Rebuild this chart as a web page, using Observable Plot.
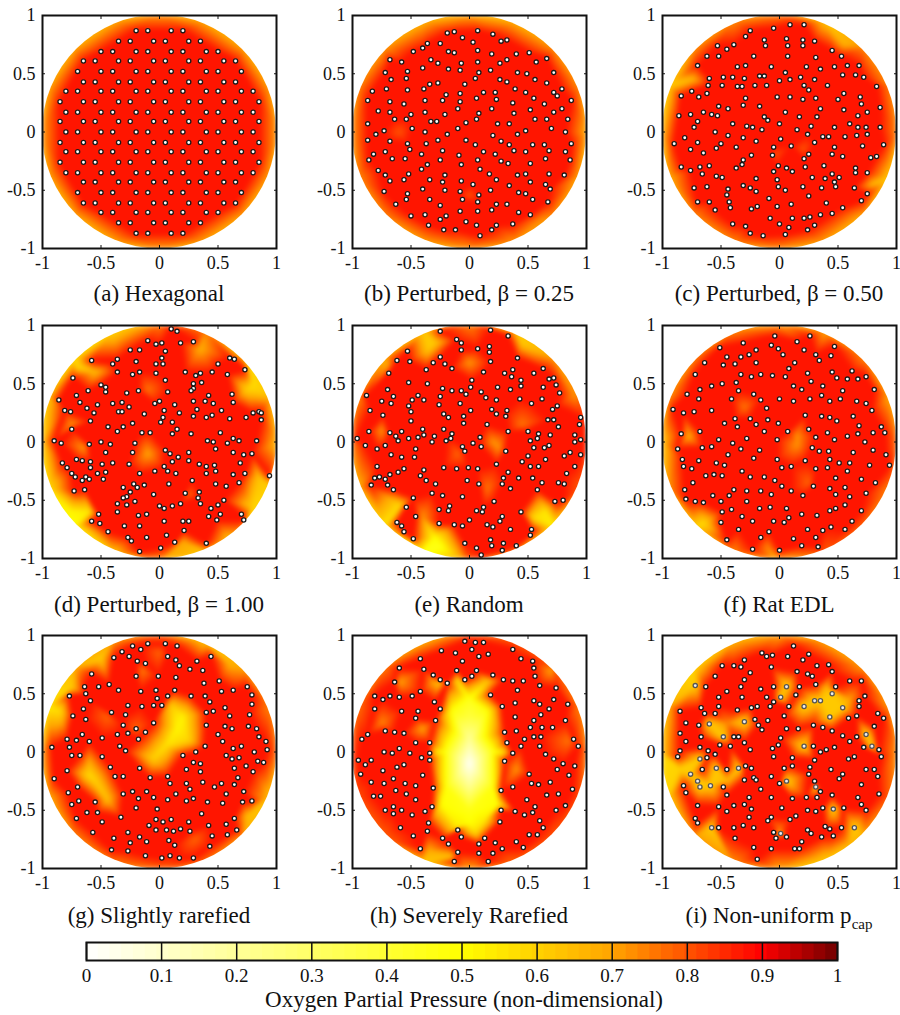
<!DOCTYPE html>
<html><head><meta charset="utf-8">
<script src="https://cdn.jsdelivr.net/npm/d3@7"></script>
<script src="https://cdn.jsdelivr.net/npm/@observablehq/plot@0.6"></script>
<style>
html,body{margin:0;padding:0;background:#fff;overflow:hidden}
#page{position:relative;width:900px;height:1015px}
#page>svg{position:absolute}
.cap{position:absolute;font:23px/26px "Liberation Serif",serif;color:#111;text-align:center;white-space:nowrap}
.cap sub{font-size:15px;line-height:0}
svg text{font-family:"Liberation Serif",serif}
</style></head><body><div id="page"></div>
<script>
// Capillary positions, in hundredths of the axis unit, as flat x,y lists
const capsA=[-20,87,-10,87,10,87,20,87,-35,78,-25,78,-5,78,5,78,25,78,35,78,-50,69,-40,69,-20,69,-10,69,10,69,20,69,40,69,50,69,-65,61,-55,61,-35,61,-25,61,-5,61,5,61,25,61,35,61,55,61,65,61,-70,52,-50,52,-40,52,-20,52,-10,52,10,52,20,52,40,52,50,52,70,52,-65,43,-55,43,-35,43,-25,43,-5,43,5,43,25,43,35,43,55,43,65,43,-80,35,-70,35,-50,35,-40,35,-20,35,-10,35,10,35,20,35,40,35,50,35,70,35,80,35,-85,26,-65,26,-55,26,-35,26,-25,26,-5,26,5,26,25,26,35,26,55,26,65,26,85,26,-80,17,-70,17,-50,17,-40,17,-20,17,-10,17,10,17,20,17,40,17,50,17,70,17,80,17,-85,9,-65,9,-55,9,-35,9,-25,9,-5,9,5,9,25,9,35,9,55,9,65,9,85,9,-80,0,-70,0,-50,0,-40,0,-20,0,-10,0,10,0,20,0,40,0,50,0,70,0,80,0,-85,-9,-65,-9,-55,-9,-35,-9,-25,-9,-5,-9,5,-9,25,-9,35,-9,55,-9,65,-9,85,-9,-80,-17,-70,-17,-50,-17,-40,-17,-20,-17,-10,-17,10,-17,20,-17,40,-17,50,-17,70,-17,80,-17,-85,-26,-65,-26,-55,-26,-35,-26,-25,-26,-5,-26,5,-26,25,-26,35,-26,55,-26,65,-26,85,-26,-80,-35,-70,-35,-50,-35,-40,-35,-20,-35,-10,-35,10,-35,20,-35,40,-35,50,-35,70,-35,80,-35,-65,-43,-55,-43,-35,-43,-25,-43,-5,-43,5,-43,25,-43,35,-43,55,-43,65,-43,-70,-52,-50,-52,-40,-52,-20,-52,-10,-52,10,-52,20,-52,40,-52,50,-52,70,-52,-65,-61,-55,-61,-35,-61,-25,-61,-5,-61,5,-61,25,-61,35,-61,55,-61,65,-61,-50,-69,-40,-69,-20,-69,-10,-69,10,-69,20,-69,40,-69,50,-69,-35,-78,-25,-78,-5,-78,5,-78,25,-78,35,-78,-20,-87,-10,-87,10,-87,20,-87];
const capsB=[-19,85,-13,86,7,87,20,84,-6,81,3,77,27,78,32,79,-25,76,-36,76,-40,72,-48,69,-18,69,-13,68,7,70,19,67,40,67,51,68,-68,62,-58,60,-33,62,-27,59,-7,59,7,60,26,59,32,62,57,60,66,63,-40,55,-18,54,-8,53,-53,52,-72,51,8,51,18,53,41,51,49,50,72,51,-67,45,-54,46,5,46,26,45,32,43,56,45,-34,41,-27,42,-4,41,66,42,-71,37,-83,35,-53,36,-39,37,-8,33,-20,32,12,34,22,34,39,37,48,34,72,34,79,37,-87,27,-68,26,-38,27,-23,27,-8,26,6,29,23,28,37,25,55,29,75,31,87,27,-56,24,64,24,-78,18,-68,17,-38,17,-21,15,-10,20,8,16,19,20,38,16,52,19,72,17,79,20,-64,11,-54,11,-50,15,-33,9,-28,9,6,11,56,11,66,11,84,11,-87,7,-3,8,24,7,34,7,-49,3,-10,3,-73,1,-38,0,48,1,70,3,82,0,-80,-2,-19,-2,20,-3,41,-2,-87,-7,-68,-8,-27,-7,-3,-7,27,-8,-53,-10,-37,-10,5,-11,34,-11,54,-11,64,-11,87,-10,-51,-15,-23,-16,12,-17,22,-19,38,-16,48,-17,68,-16,82,-17,-82,-19,-72,-17,-41,-19,-9,-20,-86,-24,-66,-23,-55,-23,-25,-24,7,-24,27,-25,52,-27,65,-23,86,-24,-36,-28,-7,-28,33,-27,-78,-33,-41,-32,9,-32,-52,-36,-72,-37,-21,-37,17,-36,41,-37,48,-36,68,-36,81,-37,-56,-41,-68,-42,-34,-41,-23,-43,-7,-42,23,-41,52,-43,3,-45,34,-46,65,-45,-40,-49,-21,-50,18,-50,69,-49,-73,-51,-53,-53,-8,-51,42,-52,48,-53,8,-54,-54,-58,-34,-58,-6,-58,54,-58,7,-60,67,-60,-63,-62,-25,-63,32,-62,23,-62,7,-68,-8,-68,19,-67,42,-69,52,-71,-50,-72,-38,-71,-20,-72,-25,-75,-3,-77,6,-80,-35,-80,23,-80,37,-79,-22,-84,-12,-84,19,-84,9,-89];
const capsC=[9,92,21,92,-5,89,-25,87,-29,82,6,80,20,79,30,78,-13,79,-12,74,-53,74,-39,75,-45,71,7,74,20,74,45,70,-62,65,-52,65,-22,65,7,65,53,65,31,64,-70,57,-36,56,-29,57,-7,56,23,56,35,54,47,56,58,57,68,57,5,51,-60,46,-48,47,-40,47,-30,46,-17,48,-13,48,9,45,18,47,30,45,54,49,65,49,72,47,0,44,-61,40,-49,40,-36,39,-32,39,-21,40,-11,40,21,40,41,40,83,39,-75,35,-62,33,25,36,55,33,-69,30,-84,31,-29,29,-2,30,9,30,20,28,31,29,69,30,50,28,70,24,-52,22,-31,23,-17,22,-44,20,86,21,35,20,55,19,75,17,5,17,-65,17,-86,14,-76,15,-58,15,-53,14,-13,13,17,13,32,13,67,14,-70,9,-10,10,-40,7,0,7,60,7,-73,4,-28,5,-23,4,-15,2,15,2,27,5,47,4,67,4,74,4,86,4,-55,0,24,-2,75,-2,-81,-5,-44,-3,-31,-5,1,-6,37,-4,42,-4,56,-4,66,-3,-20,-8,30,-9,-90,-10,-70,-9,-50,-10,71,-12,89,-11,-37,-13,-5,-13,10,-12,-76,-15,-54,-14,47,-13,-65,-18,45,-19,25,-19,-24,-20,-6,-20,54,-21,78,-22,83,-21,21,-23,-31,-24,-1,-29,-68,-30,-60,-29,-32,-28,-37,-31,-84,-30,6,-31,22,-30,38,-29,65,-31,-76,-33,-5,-34,11,-34,-66,-36,45,-36,65,-35,75,-35,-54,-38,-49,-39,-20,-40,28,-39,51,-39,39,-40,-2,-41,47,-43,-73,-48,-62,-47,-31,-46,-25,-48,-1,-47,20,-47,36,-48,48,-47,64,-48,-44,-49,-20,-51,5,-50,-45,-54,75,-53,-9,-57,25,-55,-70,-60,-60,-60,-43,-60,70,-59,40,-61,10,-62,-55,-67,-42,-65,-24,-66,-19,-64,-2,-64,54,-65,45,-70,35,-71,-40,-79,-8,-74,11,-74,21,-74,26,-73,-29,-81,0,-79,30,-80,8,-82,-25,-87,-14,-89,5,-88,24,-84];
const capsD=[10,97,15,95,-10,87,-3,84,2,85,18,85,29,86,-25,79,-17,79,5,78,2,72,60,72,64,71,-58,70,-36,71,-40,67,-20,69,-3,67,3,67,50,67,73,62,-36,60,-23,58,-17,60,-3,59,22,60,35,59,31,57,45,60,58,58,-74,55,5,53,29,50,36,51,-50,49,-46,47,29,46,-61,44,-46,43,-28,42,-18,44,7,43,27,44,-71,40,42,40,62,41,-86,36,-68,34,-53,32,-40,33,-32,34,-4,33,0,35,13,32,29,35,39,35,46,33,63,34,-62,29,-26,30,-81,27,-76,26,-56,25,-35,26,-32,26,-13,24,4,27,17,25,32,28,53,27,80,25,85,26,87,25,74,21,29,22,40,21,45,23,60,20,-59,18,87,19,3,21,1,17,11,17,-23,16,-44,13,-31,13,15,11,-75,11,-36,9,-15,8,-8,8,11,7,27,7,52,8,63,3,-90,1,-84,-1,-50,0,41,1,46,0,58,-1,68,1,83,1,-60,-2,-42,-2,-21,-1,48,-6,5,-7,63,-9,-23,-9,-46,-9,9,-10,25,-9,79,-10,72,-11,-71,-15,-66,-16,-59,-17,16,-13,25,-16,11,-17,-83,-18,-40,-18,-49,-19,-26,-19,34,-19,47,-20,40,-21,69,-18,-79,-22,-59,-22,4,-21,-75,-27,-53,-27,-46,-26,-4,-25,7,-25,14,-27,48,-25,40,-27,-17,-27,73,-27,-72,-30,-63,-30,-60,-32,-66,-33,-48,-32,63,-28,94,-29,28,-33,-22,-36,-19,-39,-13,-37,8,-36,-31,-39,48,-36,57,-38,68,-35,-73,-42,-64,-41,-25,-43,34,-43,-5,-45,22,-44,-28,-47,-31,-48,33,-48,-21,-51,55,-50,-36,-53,-28,-54,18,-53,35,-53,0,-55,11,-55,4,-57,50,-54,44,-57,-36,-60,-52,-62,-18,-63,-11,-62,42,-64,52,-62,70,-62,49,-67,72,-67,-58,-68,-51,-70,4,-68,20,-68,25,-68,-30,-72,-17,-72,-44,-77,21,-76,6,-80,-27,-82,-11,-82,-24,-85,13,-86,40,-87,1,-91,-17,-94];
const capsE=[-25,95,18,96,33,91,-11,88,-7,85,-7,79,7,80,17,82,17,77,-53,78,-25,73,-62,70,-51,69,-31,68,-21,67,18,69,41,72,-37,62,-15,63,12,60,30,59,37,62,-69,59,36,56,55,59,63,63,44,53,68,54,72,55,2,53,-52,51,-36,50,74,49,-70,45,-23,46,-15,44,-7,44,1,47,24,47,35,45,44,48,63,47,-3,41,10,43,77,42,-88,40,-44,40,-65,39,-25,39,14,38,23,36,43,37,62,37,-49,36,-39,36,-75,35,-67,33,-8,33,53,33,-26,32,75,31,-52,31,71,28,-85,27,19,28,1,27,32,27,-50,26,-22,24,23,24,-74,23,-18,21,-5,22,31,22,95,21,67,19,72,19,-50,18,-5,16,15,15,94,15,76,13,-22,11,-40,11,-86,9,-58,9,-68,8,-15,7,33,9,50,9,59,7,-63,5,-39,6,-30,5,-44,4,-52,3,-16,3,69,6,90,6,-96,3,-61,1,9,4,-20,1,-32,0,52,1,58,3,95,2,90,0,3,-1,-89,-3,-72,-3,-6,-4,10,-4,68,-3,55,-5,64,-5,-79,-6,-46,-6,-4,-8,31,-8,86,-9,95,-11,-67,-11,50,-12,-58,-13,-47,-13,81,-12,65,-15,45,-17,-79,-21,23,-19,-22,-22,-11,-23,-1,-22,7,-23,52,-21,59,-21,90,-21,-39,-24,-56,-23,-61,-26,33,-26,83,-27,-68,-28,-81,-31,-77,-30,-42,-29,-72,-32,-37,-33,-2,-33,29,-31,42,-31,54,-31,62,-35,-84,-37,-70,-37,-29,-36,8,-36,28,-36,76,-35,81,-36,-65,-41,35,-40,58,-41,-32,-44,-23,-46,-48,-48,-6,-47,21,-51,73,-51,80,-50,-54,-56,-17,-55,12,-56,-26,-58,-18,-59,6,-59,11,-60,44,-60,-46,-64,28,-64,0,-67,-62,-69,-58,-72,-26,-70,-13,-71,-6,-72,15,-71,20,-73,26,-68,35,-75,53,-75,52,-80,-56,-77,-48,-83,18,-84,29,-87,-4,-87,19,-89,40,-89,6,-91,28,-93,10,-97];
const capsF=[-4,91,26,91,-31,85,15,86,-51,81,-7,83,-1,80,-20,79,47,82,21,79,-26,75,3,75,-33,73,-45,73,31,75,44,74,34,70,-64,68,13,68,-20,68,-38,67,-48,66,8,63,-72,58,-33,58,-16,58,45,60,24,59,62,61,-24,56,-6,57,5,56,49,55,58,54,67,54,74,56,27,52,-37,51,-49,50,-58,48,12,48,37,48,-68,45,-35,44,19,45,54,44,81,45,-22,41,-79,41,36,40,-41,37,-69,37,-16,36,0,37,12,35,26,37,52,37,43,35,66,35,74,33,-11,29,-91,28,-82,25,-73,26,-58,27,79,27,22,23,36,22,43,21,63,22,-38,20,-25,20,-10,19,49,18,-47,16,-20,15,-1,16,-36,13,68,14,87,13,-13,9,7,9,25,11,-68,9,41,8,80,8,-84,7,90,8,67,7,31,4,58,5,-28,3,-52,2,-2,2,47,2,73,0,-40,-1,-66,-5,-58,-4,28,-5,-87,-6,-33,-6,34,-8,42,-8,-17,-7,63,-9,80,-7,-44,-11,91,-11,-83,-15,-69,-16,-22,-14,-2,-15,22,-16,43,-15,-54,-18,51,-18,60,-18,-82,-21,-47,-20,10,-21,2,-22,41,-22,77,-20,94,-20,-75,-23,31,-23,-32,-25,58,-25,-63,-29,-56,-28,-49,-29,-25,-30,-13,-30,48,-31,70,-32,-4,-33,-74,-35,82,-35,2,-38,29,-38,-39,-41,43,-40,56,-39,-81,-41,-28,-42,-16,-42,10,-42,-43,-46,-57,-46,-7,-45,20,-46,48,-45,74,-44,60,-47,-80,-49,-72,-51,-65,-52,-50,-51,-28,-51,56,-54,-41,-58,-17,-57,-8,-56,6,-57,48,-57,70,-59,43,-59,-49,-60,19,-62,32,-63,-32,-64,8,-65,62,-68,-23,-68,-5,-68,4,-69,-50,-69,24,-75,-35,-75,-9,-77,44,-73,37,-76,56,-75,31,-82,-16,-82,12,-83,-45,-84,19,-89,33,-90,-23,-92,0,-93];
const capsG=[-10,93,5,93,15,91,-23,91,-16,88,-32,86,-39,81,-26,82,7,82,44,82,14,79,-19,78,-12,76,32,78,17,74,26,71,37,70,-58,67,-20,65,-1,65,14,64,51,61,38,59,-43,58,-64,56,-52,56,75,56,-35,53,-16,52,-3,53,13,53,53,52,63,53,-63,50,-77,48,-2,46,7,48,27,48,39,48,79,49,-59,44,43,43,-5,40,2,40,-27,40,-15,39,79,41,-65,37,56,38,40,34,46,35,-41,34,-74,31,-29,32,60,31,77,32,-63,28,-5,25,-31,23,40,23,56,22,62,20,76,22,83,20,-20,20,-12,17,-27,16,-36,15,-66,15,50,15,85,13,-79,11,-71,10,-49,12,-18,11,-60,9,54,9,91,9,-92,4,-77,4,-34,5,39,5,63,3,70,5,-29,1,92,2,31,0,81,0,-75,-3,-68,-3,-49,-4,20,-3,57,-3,62,-6,68,-5,84,-8,89,-9,29,-9,35,-10,74,-12,-42,-13,-17,-14,23,-15,64,-14,-79,-16,35,-17,80,-17,-38,-21,-31,-21,-8,-22,7,-21,67,-22,-90,-23,37,-26,9,-27,23,-27,53,-27,64,-28,-70,-30,47,-30,26,-32,-23,-34,-11,-34,72,-34,-78,-35,-31,-36,57,-36,-5,-39,14,-36,-18,-40,7,-41,29,-40,-69,-42,-55,-43,23,-42,41,-43,54,-44,71,-43,79,-42,-75,-45,-20,-48,-2,-49,-62,-52,-53,-52,36,-53,-33,-56,-71,-57,-3,-58,10,-58,64,-57,-49,-60,3,-60,25,-60,-9,-63,42,-63,57,-62,-3,-67,18,-66,6,-67,12,-68,26,-68,-57,-69,-27,-69,66,-67,45,-72,58,-71,-39,-74,-17,-73,8,-76,-11,-77,-25,-78,13,-80,43,-81,-41,-84,-27,-85,-12,-89,9,-89,2,-91,17,-91,29,-91];
const capsH=[-4,95,5,94,12,94,2,88,-24,87,37,88,-12,85,16,84,8,82,-42,80,44,80,-6,78,54,78,-60,72,-39,71,-11,70,6,70,55,72,-31,66,2,65,20,66,56,65,-4,62,-25,62,29,62,37,61,46,61,-19,59,-64,60,60,57,74,55,41,53,-42,52,-81,48,-68,48,-74,45,-60,47,-49,48,18,49,55,44,-30,43,72,45,39,42,60,41,84,41,28,39,68,37,-81,37,-58,35,-44,35,-25,37,61,32,39,30,-46,29,55,27,82,27,-29,27,52,21,62,21,71,21,-72,18,-64,17,-56,16,30,17,40,18,-87,15,55,13,61,13,-92,11,47,11,89,11,-46,8,-34,8,32,8,44,5,60,5,93,5,-60,3,-73,0,-66,-1,-51,-1,-34,-1,37,-1,65,-2,-41,-5,-34,-7,-95,-7,-84,-7,30,-8,72,-6,-89,-11,-56,-11,-62,-13,80,-10,90,-12,-74,-16,75,-15,-93,-19,-40,-20,51,-19,85,-20,-65,-23,-84,-26,-73,-27,-55,-27,-46,-29,53,-27,59,-28,69,-26,-31,-31,37,-30,27,-33,-63,-33,88,-32,-54,-36,66,-37,76,-36,-82,-38,-76,-38,-46,-41,49,-41,-32,-47,-65,-47,56,-47,82,-46,-72,-50,-58,-50,-38,-51,27,-50,39,-51,74,-50,-65,-53,-49,-54,47,-54,54,-52,-35,-61,26,-60,60,-59,-59,-65,63,-65,-36,-68,-10,-67,-48,-72,51,-71,58,-71,-23,-74,-7,-73,13,-74,40,-77,-18,-79,8,-79,22,-78,46,-82,-42,-83,28,-83,-10,-86,8,-87,20,-87,-13,-94,16,-94];
const capsI=[12,91,-15,85,-6,83,-11,82,7,82,25,84,20,79,-30,79,-49,74,-39,74,-33,73,-7,73,32,74,42,75,-25,68,15,69,24,67,28,65,45,69,-55,65,-30,62,60,61,70,61,31,58,-63,56,-33,56,-5,56,17,56,48,56,-16,54,-45,52,14,49,73,48,-52,47,-32,47,-11,47,68,44,-5,43,-52,39,-67,38,-24,38,-19,39,-8,39,8,39,-36,36,-85,35,-64,33,-55,33,68,39,66,31,4,31,84,33,59,29,89,29,-21,28,-10,27,-80,25,-18,23,29,23,-69,23,81,22,6,20,16,20,37,21,-15,19,45,18,-85,16,-67,13,-39,13,-35,13,54,14,66,13,1,12,-80,9,-30,8,60,9,-1,6,-68,4,-51,6,-42,5,29,5,47,4,72,4,85,2,-25,2,-6,3,-61,1,-85,1,40,2,35,0,-55,-2,-5,-4,59,-6,64,-4,87,-4,-62,-5,-87,-4,11,-5,30,-7,26,-13,-29,-12,11,-12,4,-14,-24,-14,-45,-15,-66,-15,44,-15,74,-15,81,-15,25,-19,54,-19,84,-21,-7,-21,-22,-22,-30,-24,-20,-24,51,-23,30,-25,0,-27,70,-28,-82,-29,-48,-30,-16,-32,35,-34,-80,-35,-45,-37,45,-37,85,-36,-26,-39,-7,-39,11,-40,23,-39,32,-39,67,-39,-30,-45,70,-45,-70,-46,-52,-47,-39,-46,2,-48,37,-48,55,-48,-24,-49,24,-50,31,-51,-45,-51,74,-50,-26,-56,-7,-56,14,-55,-72,-57,-10,-59,9,-58,-70,-61,-31,-63,-52,-65,-39,-65,-22,-65,39,-64,43,-66,53,-65,24,-67,-5,-69,27,-70,6,-73,-3,-74,36,-73,46,-72,-38,-74,19,-77,-22,-82,-7,-83,13,-83,17,-83,-19,-92];
// Capillaries of panel (i) with a lower supply pressure
const lowCapsI=[-72,57,6,56,1,47,45,50,21,39,30,44,35,44,54,38,43,30,-60,24,-30,26,-48,13,21,5,74,15,79,5,-68,-6,-54,-14,-35,-14,-76,-19,-70,-25,-68,-30,-59,-29,6,-25,31,-30,46,-49,-58,-65,64,-65,1,-70];

// Oxygen level next to a capillary, and on the rim, sampled every 22.5 degrees counter-clockwise from east
const capLevel=0.875, lowCapLevel=0.62;
const rimA=[.67,.67,.67,.67,.67,.67,.67,.67,.67,.67,.67,.67,.67,.67,.67,.67];
const rimB=[.64,.7,.7,.66,.64,.66,.7,.72,.68,.72,.72,.68,.68,.7,.7,.66];
const rimC=[.7,.72,.72,.62,.7,.72,.7,.6,.6,.66,.72,.72,.68,.68,.66,.6];
const rimD=[.62,.64,.58,.74,.72,.58,.55,.62,.56,.56,.5,.62,.68,.62,.58,.6];
const rimE=[.82,.76,.68,.62,.72,.62,.66,.72,.72,.66,.56,.46,.78,.68,.54,.78];
const rimF=[.72,.66,.72,.68,.66,.72,.72,.7,.58,.7,.6,.72,.66,.78,.75,.72];
const rimG=[.72,.72,.68,.62,.72,.7,.66,.54,.62,.66,.72,.74,.74,.74,.68,.62];
const rimH=[.7,.72,.78,.78,.76,.66,.74,.76,.78,.8,.78,.62,.66,.76,.78,.78];
const rimI=[.68,.68,.7,.68,.66,.66,.58,.66,.58,.6,.72,.72,.66,.58,.68,.76];

// Low-oxygen spots between capillaries, as x,y (hundredths),level
const spotsA=[];
const spotsB=[-60,0,.8,0,-55,.8,60,-75,.74];
const spotsC=[-5,-20,.8,20,-15,.8,-75,45,.66,55,75,.68,80,-45,.66,60,80,.68];
const spotsD=[-10,-10,.7,75,45,.6,80,50,.58,-60,-60,.55,-75,-60,.52,60,-85,.62,20,-85,.7,80,-55,.6,-55,60,.66,-70,65,.58,-10,45,.76,25,-45,.78,-75,15,.72,35,80,.68,-65,-5,.72,85,-30,.64];
const spotsE=[-30,-82,.5,-25,-90,.46,-40,-65,.72,55,-65,.58,65,-60,.55,20,0,.72,25,-5,.72,-60,-55,.58,-30,85,.62,-35,80,.62,45,85,.62,-10,-10,.78,-70,65,.7,0,68,.72,-75,10,.72,45,15,.76,15,-40,.76,90,40,.72];
const spotsF=[15,-2,.72,15,5,.72,-65,-70,.58,-30,30,.76,25,-35,.78,-78,5,.68,-10,-90,.74];
const spotsG=[15,20,.52,20,30,.53,5,5,.57,-5,-5,.6,25,10,.6,10,40,.62,-55,-25,.6,-60,-20,.58,-45,-40,.64,-85,35,.58,-75,55,.62,-45,30,.78,-60,-5,.72,75,-55,.65,60,75,.68,-50,80,.62,-20,20,.78,0,85,.78,90,-40,.7,30,-75,.78,-15,70,.75];
const spotsH=[0,-10,.02,0,10,.2,0,-30,.22,0,30,.38,0,-50,.46,-18,0,.42,18,0,.42,-20,-30,.48,20,-30,.48,15,35,.48,-15,35,.48,-24,-45,.5,24,-45,.5,0,45,.45,-28,0,.55,28,0,.55,-40,20,.7,40,-15,.72,-25,60,.62,15,60,.62,-60,60,.7,-10,62,.58,5,-70,.6,0,-62,.5,-10,-65,.55,12,-60,.55,-75,25,.74,85,10,.76,-30,60,.68,-15,-90,.65,-35,-85,.68,70,70,.7];
const spotsI=[-85,-15,.6,-45,-25,.66,40,55,.66,60,45,.7,-45,25,.74,0,-65,.76,60,-80,.66];

const panels=[
 {caption:"(a) Hexagonal",caps:capsA,rim:rimA,spots:spotsA},
 {caption:"(b) Perturbed, β = 0.25",caps:capsB,rim:rimB,spots:spotsB},
 {caption:"(c) Perturbed, β = 0.50",caps:capsC,rim:rimC,spots:spotsC},
 {caption:"(d) Perturbed, β = 1.00",caps:capsD,rim:rimD,spots:spotsD},
 {caption:"(e) Random",caps:capsE,rim:rimE,spots:spotsE},
 {caption:"(f) Rat EDL",caps:capsF,rim:rimF,spots:spotsF},
 {caption:"(g) Slightly rarefied",caps:capsG,rim:rimG,spots:spotsG},
 {caption:"(h) Severely Rarefied",caps:capsH,rim:rimH,spots:spotsH},
 {caption:"(i) Non-uniform p<sub>cap</sub>",caps:capsI,low:lowCapsI,rim:rimI,spots:spotsI}
];
const axisTicks=[-1,-0.5,0,0.5,1];
const barTicks=[0,0.1,0.2,0.3,0.4,0.5,0.6,0.7,0.8,0.9,1];
const barSteps=64;
const colorStops=[0,0.5,0.7,0.9,1];
const colorRange=["#ffffff","#ffff00","#ffa500","#ff0000","#700000"];
const barTitle="Oxygen Partial Pressure (non-dimensional)";

const colorScale={type:"linear",domain:colorStops,range:colorRange,clamp:true};
const font={fontFamily:"Liberation Serif",background:"transparent",color:"#111"};
const pairs=(a)=>d3.range(0,a.length,2).map(i=>({x:a[i]/100,y:a[i+1]/100}));
const triples=(a)=>d3.range(0,a.length,3).map(i=>({x:a[i]/100,y:a[i+1]/100,v:a[i+2]}));
function field(p){
  const caps=pairs(p.caps).map(d=>({...d,v:capLevel}));
  const low=pairs(p.low||[]).map(d=>({...d,v:lowCapLevel}));
  const rim=p.rim.map((v,i)=>{const t=i*Math.PI/8;return {x:1.04*Math.cos(t),y:1.04*Math.sin(t),v};});
  return [...caps,...low,...rim,...triples(p.spots)];
}
const page=document.getElementById("page");
const lefts=[42,352,662], tops=[15,325,635], fw=234, fh=233, mL=40,mR=10,mT=12,mB=32;
const capTops=[281,592,903];
panels.forEach((p,i)=>{
  const left=lefts[i%3], top=tops[Math.floor(i/3)];
  const tf=d=>String(d);
  const plot=Plot.plot({
    width:fw+mL+mR,height:fh+mT+mB,marginLeft:mL,marginRight:mR,marginTop:mT,marginBottom:mB,
    style:{...font,fontSize:"18px"},
    x:{domain:[-1,1]},y:{domain:[-1,1]},color:colorScale,
    marks:[
      Plot.raster(field(p),{x:"x",y:"y",fill:"v",interpolate:"barycentric",pixelSize:1}),
      Plot.dot(pairs(p.caps),{x:"x",y:"y",r:2.1,fill:"white",stroke:"#1a1a1a",strokeWidth:1.3}),
      Plot.dot(pairs(p.low||[]),{x:"x",y:"y",r:2.1,fill:"#eee",stroke:"#555",strokeWidth:1.3}),
      Plot.frame({stroke:"#111",strokeWidth:2}),
      Plot.axisX({anchor:"bottom",ticks:axisTicks,tickFormat:tf,tickSize:-3,tickPadding:11,fontSize:18,label:null}),
      Plot.axisX({anchor:"top",ticks:axisTicks,tickSize:-3,text:null,label:null}),
      Plot.axisY({anchor:"left",ticks:axisTicks,tickFormat:tf,tickSize:-3,tickPadding:10,fontSize:18,label:null}),
      Plot.axisY({anchor:"right",ticks:axisTicks,tickSize:-3,text:null,label:null})
    ]
  });
  const x=plot.scale("x"), y=plot.scale("y");
  const id="disc"+i, ns="http://www.w3.org/2000/svg";
  const cp=document.createElementNS(ns,"clipPath"); cp.setAttribute("id",id);
  const c=document.createElementNS(ns,"circle");
  c.setAttribute("cx",x.apply(0)); c.setAttribute("cy",y.apply(0)); c.setAttribute("r",(x.apply(1)-x.apply(-1))/2);
  cp.appendChild(c); plot.appendChild(cp);
  const img=plot.querySelector("image");
  img.style.filter="blur(2px)";
  const wrap=document.createElementNS(ns,"g");
  wrap.setAttribute("clip-path","url(#"+id+")");
  let layer=img; while(layer.parentNode!==plot) layer=layer.parentNode;
  plot.insertBefore(wrap,layer); wrap.appendChild(layer);
  plot.style.left=(left-mL)+"px"; plot.style.top=(top-mT)+"px";
  page.appendChild(plot);
  const cap=document.createElement("div");
  cap.className="cap"; cap.innerHTML=p.caption;
  cap.style.left=(left-33)+"px"; cap.style.width=(fw+66)+"px"; cap.style.top=capTops[Math.floor(i/3)]+"px";
  page.appendChild(cap);
});
const bands=d3.range(barSteps).map(i=>({a:i/barSteps,b:(i+1)/barSteps,v:(i+0.5)/barSteps}));
const bar=Plot.plot({
  width:900,height:66,marginLeft:86,marginRight:63,marginTop:12,marginBottom:36,
  style:{...font,fontSize:"19px"},
  x:{domain:[0,1]},y:{domain:[0,1],axis:null},color:colorScale,
  marks:[
    Plot.rect(bands,{x1:"a",x2:d=>d.b+0.001,y1:0,y2:1,fill:"v"}),
    Plot.ruleX(barTicks,{stroke:"#111",strokeWidth:1.5}),
    Plot.frame({stroke:"#111",strokeWidth:2}),
    Plot.axisX({anchor:"bottom",ticks:barTicks,tickFormat:d=>String(d),tickSize:0,tickPadding:8,fontSize:19,label:null})
  ]
});
bar.style.left="0px"; bar.style.top="930px";
page.appendChild(bar);
const t=document.createElement("div");
t.className="cap"; t.textContent=barTitle;
t.style.left="0px"; t.style.width="928px"; t.style.top="987px";
page.appendChild(t);
</script></body></html>
